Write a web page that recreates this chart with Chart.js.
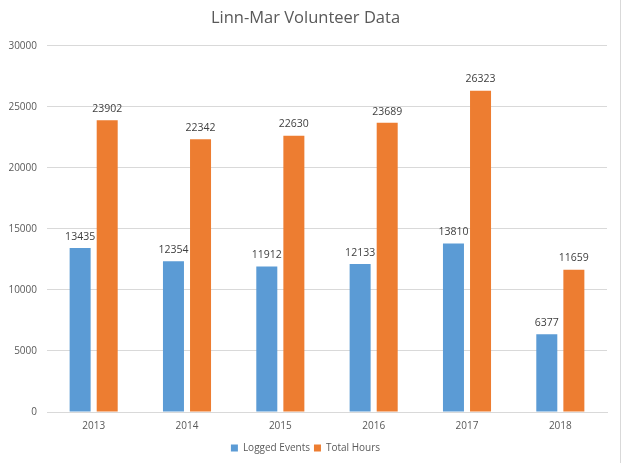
<!DOCTYPE html>
<html>
<head>
<meta charset="utf-8">
<script src="https://cdn.jsdelivr.net/npm/chart.js@4.4.0/dist/chart.umd.min.js"></script>
<style>
  html, body { margin: 0; padding: 0; background: #fff; }
  #wrap { position: relative; width: 620px; height: 463px; border-right: 1px solid #d9d9d9; }
</style>
</head>
<body>
<div id="wrap"><canvas id="chart" width="620" height="463"></canvas></div>
<script>
// ── Data ──
const years         = ['2013', '2014', '2015', '2016', '2017', '2018'];
const loggedEvents  = [13435, 12354, 11912, 12133, 13810, 6377];
const totalHours    = [23902, 22342, 22630, 23689, 26323, 11659];

const FONT = "'Open Sans', 'Liberation Sans', sans-serif";

// draws value labels above each bar
const valueLabels = {
  id: 'valueLabels',
  afterDatasetsDraw(chart) {
    const ctx = chart.ctx;
    ctx.save();
    ctx.font = '10.5px ' + FONT;
    ctx.fillStyle = '#404040';
    ctx.textAlign = 'center';
    ctx.textBaseline = 'bottom';
    chart.data.datasets.forEach((ds, i) => {
      chart.getDatasetMeta(i).data.forEach((bar, j) => {
        ctx.fillText(ds.data[j], bar.x, bar.y - 6);
      });
    });
    ctx.restore();
  }
};

new Chart(document.getElementById('chart'), {
  type: 'bar',
  data: {
    labels: years,
    datasets: [
      { label: 'Logged Events', data: loggedEvents, backgroundColor: '#5b9bd5',
        barPercentage: 0.776, categoryPercentage: 0.58 },
      { label: 'Total Hours', data: totalHours, backgroundColor: '#ed7d31',
        barPercentage: 0.776, categoryPercentage: 0.58 }
    ]
  },
  options: {
    responsive: false,
    animation: false,
    layout: { padding: { left: 4, right: 13, top: 4, bottom: 0 } },
    plugins: {
      title: {
        display: true, text: 'Linn-Mar Volunteer Data',
        color: '#595959', font: { family: FONT, size: 16.5, weight: 'normal' },
        padding: { top: 4, bottom: 18 }
      },
      legend: {
        position: 'bottom',
        labels: { color: '#595959', font: { family: FONT, size: 10 },
          boxWidth: 7, boxHeight: 7, padding: 4 }
      },
      tooltip: { enabled: false }
    },
    scales: {
      x: {
        grid: { display: false },
        border: { color: '#d9d9d9' },
        ticks: { color: '#595959', font: { family: FONT, size: 10 }, padding: 0 },
        afterFit: scale => { scale.height += 7; }
      },
      y: {
        min: 0, max: 30000,
        ticks: { stepSize: 5000, color: '#595959', font: { family: FONT, size: 10 }, padding: 10,
          callback: v => String(v) },
        grid: { color: '#d9d9d9', drawTicks: false },
        border: { display: false },
        afterFit: scale => { scale.width = 43; }
      }
    }
  },
  plugins: [valueLabels]
});
</script>
</body>
</html>
